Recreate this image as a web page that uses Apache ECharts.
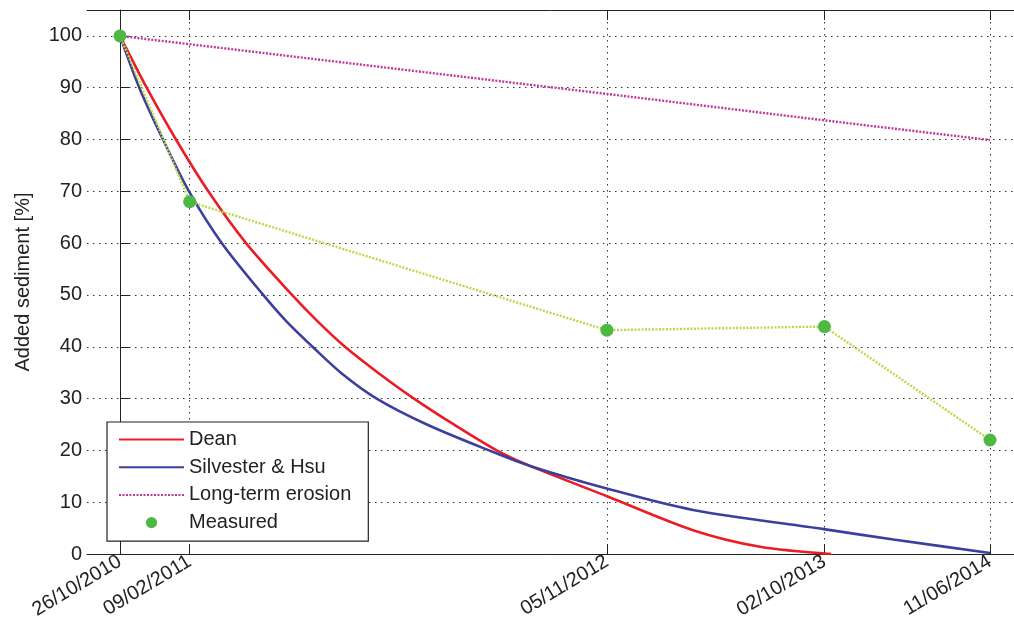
<!DOCTYPE html>
<html><head><meta charset="utf-8">
<script src="https://cdn.jsdelivr.net/npm/echarts@6/dist/echarts.min.js"></script>
<style>html,body{margin:0;padding:0;background:#fff}#c{width:1014px;height:624px}</style>
</head><body><div id="c"></div>
<script>
const tickLabels = ['26/10/2010', '09/02/2011', '05/11/2012', '02/10/2013', '11/06/2014'];
const yTicks = [0, 10, 20, 30, 40, 50, 60, 70, 80, 90, 100];
const measuredValues = [100, 68, 43.2, 43.9, 22];
const erosionValues = [100, 98.4, 88.8, 83.7, 79.9];
const deanDays = [0, 40.6, 85.2, 134.4, 191.8, 261.8, 300, 342.4, 392.6, 447.4, 508, 573.3, 624, 742.2, 872, 974, 1082];
const deanValues = [100, 90, 80, 70, 60, 50, 45, 40, 35, 30, 25, 20, 17, 11.1, 4.6, 1.4, 0];
const silvesterDays = [0, 29.4, 65.4, 105, 155, 218, 252.6, 293, 336, 390.6, 467, 561.6, 624, 742, 872, 1071, 1177, 1324];
const silvesterValues = [100, 90, 80, 70, 60, 50, 45, 40, 35, 30, 25, 20, 17, 12.6, 8.5, 4.8, 2.8, 0.2];

function parseDay(s) { const p = s.split('/').map(Number); return Date.UTC(p[2], p[1] - 1, p[0]); }
const t0 = parseDay(tickLabels[0]);
const tickDays = tickLabels.map(s => Math.round((parseDay(s) - t0) / 86400000));
const zip = (a, b) => a.map((v, i) => [v, b[i]]);

const FONT = '"Liberation Sans", Arial, Helvetica, sans-serif';
const gridLine = { show: true, lineStyle: { color: '#333', width: 1, type: [1.5, 4.5] } };
const X_MIN = -50.2, X_MAX = 1360.5;

const chart = echarts.init(document.getElementById('c'), null, { renderer: 'canvas' });
chart.setOption({
  backgroundColor: '#fff',
  animation: false,
  grid: { left: 87, top: 10, bottom: 70, right: 0, containLabel: false },
  xAxis: [{
    type: 'value', position: 'bottom', min: X_MIN, max: X_MAX,
    axisLine: { show: true, lineStyle: { color: '#222', width: 1 } },
    axisTick: { show: true, inside: true, length: 10, customValues: tickDays, lineStyle: { color: '#222' } },
    axisLabel: {
      customValues: tickDays, rotate: 31, margin: 6, fontSize: 20, color: '#222', fontFamily: FONT,
      formatter: v => tickLabels[tickDays.indexOf(Math.round(v))] || ''
    },
    splitLine: gridLine
  }, {
    type: 'value', position: 'top', min: X_MIN, max: X_MAX,
    axisLine: { show: true, lineStyle: { color: '#222', width: 1 } },
    axisTick: { show: true, inside: true, length: 10, customValues: tickDays, lineStyle: { color: '#222' } },
    axisLabel: { show: false },
    splitLine: { show: false }
  }],
  yAxis: {
    type: 'value', min: 0, max: 105,
    name: 'Added sediment [%]', nameLocation: 'middle', nameGap: 54,
    nameTextStyle: { fontSize: 20, color: '#222', fontFamily: FONT },
    axisLine: { show: true, lineStyle: { color: '#222', width: 1 } },
    axisTick: { show: true, inside: true, length: 9, customValues: yTicks, lineStyle: { color: '#222' } },
    axisLabel: { customValues: yTicks, margin: 5, fontSize: 20, color: '#222', fontFamily: FONT },
    splitLine: gridLine
  },
  legend: {
    orient: 'vertical', left: 107, top: 422,
    padding: [7, 17, 8, 11], itemWidth: 65, itemHeight: 14, itemGap: 6.7,
    borderColor: '#222', borderWidth: 1.2, backgroundColor: '#fff', borderRadius: 0,
    textStyle: { fontSize: 20, lineHeight: 21, color: '#222', fontFamily: FONT },
    data: [
      { name: 'Dean', itemStyle: { opacity: 0 } },
      { name: 'Silvester & Hsu', itemStyle: { opacity: 0 } },
      { name: 'Long-term erosion', itemStyle: { opacity: 0 } },
      { name: 'Measured', lineStyle: { opacity: 0 } }
    ]
  },
  series: [
    {
      name: 'Dean', type: 'line', data: zip(deanDays, deanValues), symbol: 'none', smooth: 0.3,
      lineStyle: { color: '#ec1c24', width: 2.6 }, itemStyle: { color: '#ec1c24' }
    },
    {
      name: 'Silvester & Hsu', type: 'line', data: zip(silvesterDays, silvesterValues), symbol: 'none', smooth: 0.3,
      lineStyle: { color: '#3c3f9c', width: 2.6 }, itemStyle: { color: '#3c3f9c' }
    },
    {
      name: 'Long-term erosion', type: 'line', data: zip(tickDays, erosionValues), symbol: 'none',
      lineStyle: { color: '#c2379a', width: 2.4, type: [2, 1.5] }, itemStyle: { color: '#c2379a' }
    },
    {
      name: 'Measured', type: 'line', data: zip(tickDays, measuredValues), symbol: 'circle', symbolSize: 13,
      lineStyle: { color: '#b9d84a', width: 2.4, type: [2, 1.5] }, itemStyle: { color: '#4db842' }
    }
  ]
});
</script>
</body></html>
